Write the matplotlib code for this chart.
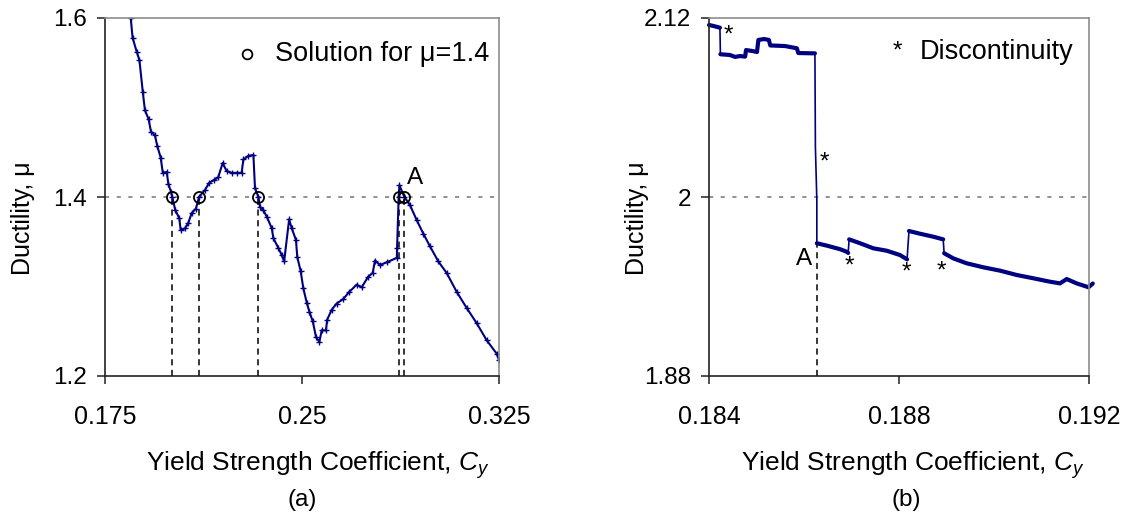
import numpy as np
import matplotlib
matplotlib.use("Agg")
import matplotlib.pyplot as plt

plt.rcParams['font.family'] = ['Liberation Sans', 'DejaVu Sans']
plt.rcParams['mathtext.fontset'] = 'custom'
plt.rcParams['mathtext.rm'] = 'Liberation Sans'
plt.rcParams['mathtext.it'] = 'Liberation Sans:italic'

# (a) ductility vs yield strength coefficient, wide range
cy_a = [0.1848, 0.1855, 0.1871, 0.1881, 0.1894, 0.1902, 0.1916, 0.1925, 0.1940,
        0.1949, 0.1962, 0.1970, 0.1985, 0.1991, 0.2001, 0.2006, 0.2017, 0.2033,
        0.2038, 0.2055, 0.2067, 0.2080, 0.2096, 0.2108, 0.2131, 0.2147, 0.2165,
        0.2181, 0.2198, 0.2213, 0.2232, 0.2251, 0.2270, 0.2277, 0.2296, 0.2315,
        0.2321, 0.2334, 0.2340, 0.2353, 0.2366, 0.2385, 0.2391, 0.2410, 0.2423,
        0.2432, 0.2451, 0.2461, 0.2477, 0.2482, 0.2495, 0.2505, 0.2518, 0.2528,
        0.2541, 0.2553, 0.2566, 0.2575, 0.2591, 0.2596, 0.2613, 0.2632, 0.2657,
        0.2680, 0.2708, 0.2727, 0.2752, 0.2769, 0.2778, 0.2797, 0.2822, 0.2861,
        0.2862, 0.2868, 0.2871, 0.2890, 0.2911, 0.2937, 0.2962, 0.2987, 0.3019,
        0.3051, 0.3089, 0.3127, 0.3165, 0.3203, 0.3241, 0.3250]
mu_a = [1.600, 1.578, 1.562, 1.553, 1.517, 1.497, 1.487, 1.473, 1.469,
        1.457, 1.444, 1.427, 1.428, 1.415, 1.406, 1.400, 1.386, 1.376,
        1.363, 1.365, 1.371, 1.382, 1.387, 1.400, 1.408, 1.416, 1.419,
        1.422, 1.438, 1.429, 1.427, 1.427, 1.427, 1.442, 1.446, 1.447,
        1.410, 1.400, 1.389, 1.385, 1.378, 1.365, 1.354, 1.343, 1.335,
        1.328, 1.375, 1.365, 1.352, 1.333, 1.317, 1.298, 1.282, 1.272,
        1.261, 1.244, 1.238, 1.251, 1.251, 1.263, 1.274, 1.281, 1.286,
        1.294, 1.302, 1.299, 1.311, 1.315, 1.329, 1.324, 1.327, 1.332,
        1.343, 1.400, 1.413, 1.400, 1.391, 1.374, 1.359, 1.345, 1.328,
        1.315, 1.294, 1.276, 1.259, 1.240, 1.225, 1.218]

# Cy values where the curve crosses mu = 1.4
sol_cy = [0.2006, 0.2108, 0.2334, 0.2868, 0.2890]
target_mu = 1.4

# (b) close-up near Cy = 0.184 - 0.192
cy_b = [0.18400, 0.18410, 0.18423,
        0.18424, 0.18444, 0.18455, 0.18465, 0.18476, 0.18478, 0.18491, 0.18501,
        0.18504, 0.18516, 0.18526, 0.18529, 0.18560, 0.18585, 0.18588, 0.18623,
        0.18624, 0.18627,
        0.18627, 0.18648, 0.18676, 0.18690, 0.18693,
        0.18695, 0.18718, 0.18746, 0.18774, 0.18802, 0.18817,
        0.18821, 0.18844, 0.18872, 0.18893,
        0.18895, 0.18914, 0.18942, 0.18977, 0.19013, 0.19048, 0.19083, 0.19118,
        0.19139, 0.19153, 0.19174, 0.19199, 0.19208]
mu_b = [2.1153, 2.1146, 2.1135,
        2.0957, 2.0952, 2.0939, 2.0945, 2.0941, 2.0985, 2.0979, 2.0972,
        2.1053, 2.1059, 2.1053, 2.1016, 2.1012, 2.0997, 2.0965, 2.0963,
        2.0335, 1.9980,
        1.9690, 1.9674, 1.9650, 1.9633, 1.9625,
        1.9716, 1.9690, 1.9656, 1.9640, 1.9611, 1.9582,
        1.9772, 1.9754, 1.9734, 1.9716,
        1.9623, 1.9589, 1.9556, 1.9529, 1.9506, 1.9477, 1.9455, 1.9432,
        1.9421, 1.9450, 1.9421, 1.9395, 1.9420]
# densely sampled runs (start, stop); the gaps between them are the jumps
runs_b = [(0, 3), (3, 19), (21, 26), (26, 32), (32, 36), (36, len(cy_b))]
a_idx = 21
ref_mu_b = 2.0

# where the discontinuities are flagged
disc_cy = [0.18441, 0.18642, 0.18695, 0.18816, 0.18890]
disc_mu = [2.1131, 2.0275, 1.9582, 1.9537, 1.9544]

navy = '#000080'
fs = 17.5

fig = plt.figure(figsize=(11.26, 5.17), dpi=100)
ax1 = fig.add_axes([105 / 1126, 141 / 517, 394 / 1126, 358 / 517])
ax2 = fig.add_axes([709 / 1126, 141 / 517, 380 / 1126, 358 / 517])

for ax in (ax1, ax2):
    ax.spines['left'].set_color('#222222')
    ax.spines['bottom'].set_color('#222222')
    ax.spines['top'].set_color('#8c8c8c')
    ax.spines['right'].set_color('#8c8c8c')
    for s in ax.spines.values():
        s.set_linewidth(1.2)
    ax.tick_params(direction='out', length=6, width=1.1, color='#222222')
    ax.tick_params(axis='x', pad=15, labelsize=18)
    ax.tick_params(axis='y', pad=7, labelsize=17.5)
    ax.tick_params(top=False, right=False)
    ax.set_ylabel('Ductility, μ', fontsize=18, va='center')
    ax.set_xlabel('Yield Strength Coefficient, $\\mathit{C_y}$', fontsize=19, va='center')

# ---- (a)
ax1.set_xlim(0.175, 0.325)
ax1.set_ylim(1.2, 1.6)
ax1.set_xticks([0.175, 0.25, 0.325])
ax1.set_xticklabels(['0.175', '0.25', '0.325'])
ax1.set_yticks([1.2, 1.4, 1.6])
ax1.set_yticklabels(['1.2', '1.4', '1.6'])
ax1.axhline(target_mu, color='#808080', lw=1.2, ls=(0, (2.5, 4.5)))
ax1.vlines(sol_cy, 1.2, target_mu, colors='k', lw=1.1, linestyles=(0, (4, 3)))
ax1.plot(cy_a, mu_a, color=navy, lw=1.5, marker='+', ms=5, mew=1)
ax1.plot(sol_cy, [target_mu] * len(sol_cy), 'o', mfc='none', mec='k', ms=8, mew=1.3)
ax1.annotate('A', (sol_cy[-1], target_mu), xytext=(7.5, 14), textcoords='offset points',
             ha='center', va='center', fontsize=fs)
ax1.plot([0.36], [0.8986], 'o', mfc='none', mec='k', ms=7, mew=1.3,
         transform=ax1.transAxes, clip_on=False)
ax1.text(0.4315, 0.8986, 'Solution for μ=1.4', transform=ax1.transAxes,
         ha='left', va='center', fontsize=19.5)
ax1.yaxis.set_label_coords(-0.208, 0.44)
ax1.xaxis.set_label_coords(0.54, -0.25)
ax1.text(0.5, -0.345, '(a)', transform=ax1.transAxes, ha='center', va='center', fontsize=fs)

# ---- (b)
ax2.set_xlim(0.184, 0.192)
ax2.set_ylim(1.88, 2.12)
ax2.set_xticks([0.184, 0.188, 0.192])
ax2.set_xticklabels(['0.184', '0.188', '0.192'])
ax2.set_yticks([1.88, 2.0, 2.12])
ax2.set_yticklabels(['1.88', '2', '2.12'])
ax2.axhline(ref_mu_b, color='#808080', lw=1.2, ls=(0, (2.5, 4.5)))
ax2.vlines(cy_b[a_idx], 1.88, mu_b[a_idx], colors='k', lw=1.1, linestyles=(0, (4, 3)))
ax2.plot(cy_b, mu_b, color=navy, lw=1.2, clip_on=False)
for i0, i1 in runs_b:
    ax2.plot(cy_b[i0:i1], mu_b[i0:i1], color=navy, lw=3,
             solid_capstyle='round', clip_on=False)
for x, y in zip(disc_cy, disc_mu):
    ax2.annotate('*', (x, y), xytext=(0, -5), textcoords='offset points',
                 ha='center', va='center', fontsize=fs)
ax2.annotate('A', (cy_b[a_idx], mu_b[a_idx]), xytext=(-9, -11), textcoords='offset points',
             ha='center', va='center', fontsize=fs)
ax2.text(0.4966, 0.9059, '*', transform=ax2.transAxes, ha='center', va='center', fontsize=fs)
ax2.text(0.5534, 0.9059, 'Discontinuity', transform=ax2.transAxes,
         ha='left', va='center', fontsize=19.5)
ax2.yaxis.set_label_coords(-0.19, 0.44)
ax2.xaxis.set_label_coords(0.535, -0.25)
ax2.text(0.518, -0.345, '(b)', transform=ax2.transAxes, ha='center', va='center', fontsize=fs)

fig.savefig('out.png', dpi=100)
